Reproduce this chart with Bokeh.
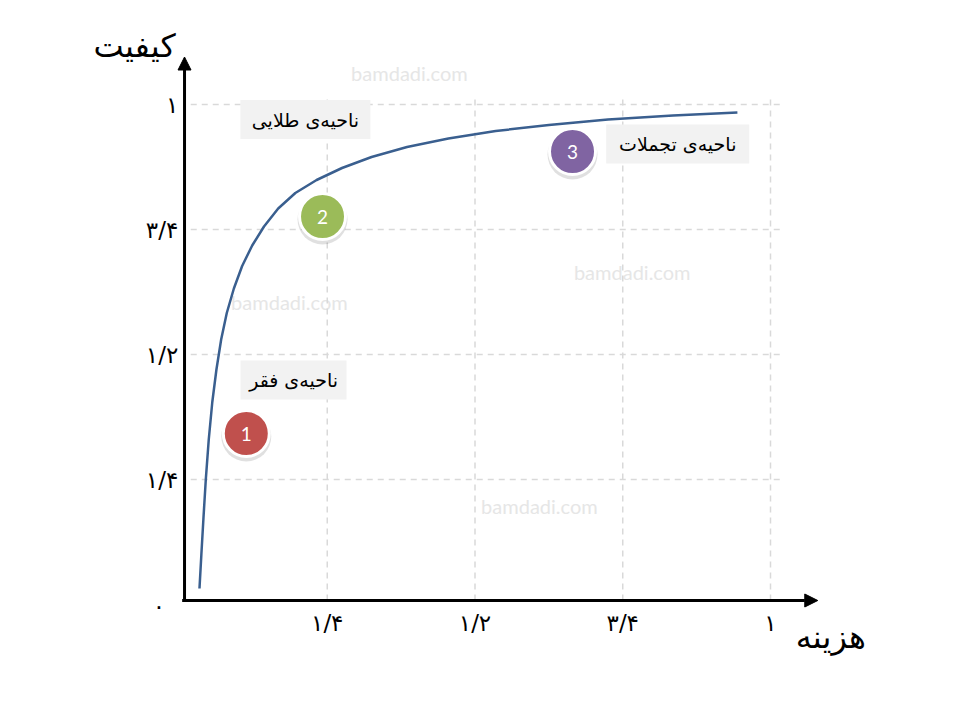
from bokeh.plotting import figure
from bokeh.models import Arrow, NormalHead, ColumnDataSource
from bokeh.core.properties import value
from bokeh.embed import file_html
from bokeh.resources import INLINE

# ---- data ----
cost = [0.0338, 0.0370, 0.0405, 0.0445, 0.0495, 0.0555, 0.0625, 0.0705, 0.080, 0.092,
        0.106, 0.123, 0.143, 0.167, 0.196, 0.232, 0.275, 0.325, 0.385, 0.455,
        0.535, 0.625, 0.725, 0.835, 0.944]
quality = [0.032, 0.100, 0.172, 0.250, 0.330, 0.405, 0.470, 0.530, 0.583, 0.632,
           0.677, 0.718, 0.756, 0.792, 0.823, 0.849, 0.873, 0.895, 0.915, 0.932,
           0.947, 0.959, 0.970, 0.978, 0.984]

tick_vals = [0.25, 0.5, 0.75, 1.0]
tick_labels = ["۱/۴", "۱/۲", "۳/۴", "۱"]
zero_label = "۰"
x_title = "هزینه"
y_title = "کیفیت"

zone_names = ["ناحیه\u200cی فقر", "ناحیه\u200cی طلایی", "ناحیه\u200cی تجملات"]
zone_x = [0.193, 0.213, 0.843]
zone_y = [0.449, 0.970, 0.921]
zone_w = [106, 130, 143]

marker_num = ["1", "2", "3"]
marker_x = [0.113, 0.242, 0.665]
marker_y = [0.342, 0.776, 0.906]
marker_colors = ["#C0504D", "#9BBB59", "#8064A2"]

wm_x = [0.389, 0.766, 0.186, 0.609]
wm_y = [1.064, 0.666, 0.606, 0.198]
wm_text = ["bamdadi.com"] * 4

W, H = 944, 704
X0 = -179 / 591
Y1 = 1 + 104 / 500
p = figure(width=W, height=H, output_backend="svg", toolbar_location=None,
           x_range=(X0, X0 + W / 591), y_range=(Y1 - H / 500, Y1),
           min_border=0)
p.axis.visible = False
p.grid.visible = False
p.outline_line_color = None
p.background_fill_color = "white"
p.border_fill_color = "white"

# watermarks
p.text(wm_x, wm_y, text=wm_text, text_color="#E6E6E6", text_font=value("Lato"),
       text_font_size="20px", text_align="center", text_baseline="middle")

# grid
gcol = "#D9D9D9"
p.segment(x0=[0.019] * 4, y0=tick_vals, x1=[1.02] * 4, y1=tick_vals,
          line_color=gcol, line_width=1.5, line_dash="6 5")
p.segment(x0=tick_vals, y0=[0.008] * 4, x1=tick_vals, y1=[1.018] * 4,
          line_color=gcol, line_width=1.5, line_dash="6 5")

# zone label boxes
p.rect(zone_x, zone_y, width=zone_w, height=[39] * 3, width_units="screen",
       height_units="screen", fill_color="#F2F2F2", line_color=None)
p.text(zone_x, zone_y, text=zone_names, text_font=value("DejaVu Sans"),
       text_font_size="19px", text_align="center", text_baseline="middle",
       text_color="black")

# curve
p.line(cost, quality, line_color="#3A5F8F", line_width=2.5, line_join="round")

# axes
AX = 0.0085
AY = 0.008
p.add_layout(Arrow(x_start=AX, y_start=AY, x_end=AX, y_end=1.095, line_width=3,
                   line_color="black",
                   end=NormalHead(size=13, fill_color="black", line_color="black")))
p.add_layout(Arrow(x_start=AX - 0.004, y_start=AY, x_end=1.08, y_end=AY, line_width=3,
                   line_color="black",
                   end=NormalHead(size=13, fill_color="black", line_color="black")))

# tick labels
fs = "23px"
p.text([-0.002] * 4, tick_vals, text=tick_labels, text_font=value("DejaVu Sans"),
       text_font_size=fs, text_align="right", text_baseline="middle", text_color="black")
p.text(tick_vals, [-0.036] * 4, text=tick_labels, text_font=value("DejaVu Sans"),
       text_font_size=fs, text_align="center", text_baseline="middle", text_color="black")
p.text([-0.035], [-0.002], text=[zero_label], text_font=value("DejaVu Sans"),
       text_font_size=fs, text_align="center", text_baseline="middle", text_color="black")

# axis titles
p.text([-0.076], [1.118], text=[y_title], text_font=value("DejaVu Sans"),
       text_font_size="32px", text_align="center", text_baseline="middle", text_color="black")
p.text([1.102], [-0.064], text=[x_title], text_font=value("DejaVu Sans"),
       text_font_size="32px", text_align="center", text_baseline="middle", text_color="black")

# numbered markers
src = ColumnDataSource(dict(x=marker_x, y=marker_y, c=marker_colors, t=marker_num,
                            ys=[v - 0.006 for v in marker_y]))
p.scatter("x", "ys", source=src, size=50, fill_color="black", fill_alpha=0.12,
          line_color=None)
p.scatter("x", "y", source=src, size=46, fill_color="c", line_color="white", line_width=3)
p.text("x", "y", text="t", source=src, text_color="white", text_font=value("Lato"),
       text_font_size="19px", text_align="center", text_baseline="middle")

open("out.html", "w").write(file_html(p, INLINE))
